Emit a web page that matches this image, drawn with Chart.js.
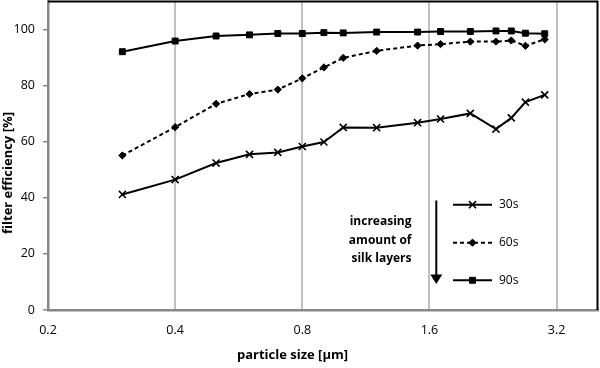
<!DOCTYPE html>
<html>
<head>
<meta charset="utf-8">
<script src="https://cdn.jsdelivr.net/npm/chart.js@4"></script>
<style>
  html, body { margin: 0; padding: 0; background: #fff; }
  #wrap { width: 600px; height: 368px; position: relative; }
</style>
</head>
<body>
<div id="wrap"><canvas id="c" width="600" height="368"></canvas></div>
<script>
const particleSize = [0.3, 0.4, 0.5, 0.6, 0.7, 0.8, 0.9, 1.0, 1.2, 1.5, 1.7, 2.0, 2.3, 2.5, 2.7, 3.0];
const eff30s = [41.2, 46.5, 52.4, 55.5, 56.2, 58.3, 59.9, 65.1, 65.0, 66.8, 68.1, 70.1, 64.5, 68.5, 74.1, 76.7];
const eff60s = [55.1, 65.2, 73.5, 77.0, 78.6, 82.6, 86.5, 89.9, 92.4, 94.3, 94.8, 95.7, 95.7, 96.1, 94.2, 96.5];
const eff90s = [92.1, 95.9, 97.7, 98.1, 98.6, 98.6, 98.9, 98.8, 99.1, 99.1, 99.3, 99.3, 99.5, 99.5, 98.7, 98.5];
const xTicks = [0.2, 0.4, 0.8, 1.6, 3.2];
const yTicks = [0, 20, 40, 60, 80, 100];
const seriesLabels = ['30s', '60s', '90s'];
const noteLines = ['increasing', 'amount of', 'silk layers'];
const xTitle = 'particle size [µm]';
const yTitle = 'filter efficiency [%]';

const FONT = "'Open Sans', 'Noto Sans', sans-serif";
const toXY = (vals) => particleSize.map((x, i) => ({ x: x, y: vals[i] }));

const styles = [
  { pointStyle: 'crossRot', radius: 5, borderDash: [], pw: 1.6 },
  { pointStyle: 'rectRot', radius: 3.6, borderDash: [4, 3], pw: 1 },
  { pointStyle: 'rect', radius: 4.2, borderDash: [], pw: 1 }
];
const seriesData = [eff30s, eff60s, eff90s];

const datasets = seriesData.map((vals, i) => ({
  label: seriesLabels[i],
  data: toXY(vals),
  borderColor: '#000',
  backgroundColor: '#000',
  borderWidth: 2,
  borderDash: styles[i].borderDash,
  pointStyle: styles[i].pointStyle,
  pointRadius: styles[i].radius,
  pointBorderWidth: styles[i].pw,
  pointBackgroundColor: '#000',
  pointBorderColor: '#000',
  tension: 0
}));

const framePlugin = {
  id: 'frame',
  afterDraw(chart) {
    const { ctx, chartArea: a } = chart;
    ctx.save();
    ctx.strokeStyle = '#000';
    ctx.lineWidth = 2;
    ctx.beginPath();
    ctx.moveTo(a.left, a.top);
    ctx.lineTo(a.right, a.top);
    ctx.lineTo(a.right, a.bottom);
    ctx.stroke();

    // axis titles
    ctx.fillStyle = '#000';
    ctx.font = "bold 13px " + FONT;
    ctx.textAlign = 'center';
    ctx.textBaseline = 'middle';
    ctx.fillText(xTitle, 292.5, 355);
    ctx.save();
    ctx.translate(8.5, 173);
    ctx.rotate(-Math.PI / 2);
    ctx.fillText(yTitle, 0, 0);
    ctx.restore();

    // annotation text
    ctx.font = "bold 12px " + FONT;
    ctx.textAlign = 'right';
    const ty = [221.5, 240.3, 259];
    noteLines.forEach((t, i) => ctx.fillText(t, 411.5, ty[i]));

    // arrow
    const ax = 436.3;
    ctx.lineWidth = 2;
    ctx.beginPath();
    ctx.moveTo(ax, 200.5);
    ctx.lineTo(ax, 276);
    ctx.stroke();
    ctx.beginPath();
    ctx.moveTo(ax - 6, 274.5);
    ctx.lineTo(ax + 6, 274.5);
    ctx.lineTo(ax, 284);
    ctx.closePath();
    ctx.fill();

    // legend
    const ly = [204.7, 242.7, 280.3];
    ctx.font = "12px " + FONT;
    ctx.textAlign = 'left';
    seriesLabels.forEach((lab, i) => {
      ctx.save();
      ctx.strokeStyle = '#000';
      ctx.lineWidth = 2;
      ctx.setLineDash(styles[i].borderDash);
      ctx.beginPath();
      ctx.moveTo(453, ly[i]);
      ctx.lineTo(492, ly[i]);
      ctx.stroke();
      ctx.restore();
      ctx.save();
      ctx.fillStyle = '#000';
      ctx.strokeStyle = '#000';
      ctx.lineWidth = styles[i].pw;
      Chart.helpers.drawPoint(ctx, { pointStyle: styles[i].pointStyle, radius: styles[i].radius, rotation: 0, borderWidth: styles[i].pw }, 472.5, ly[i]);
      ctx.restore();
      ctx.fillText(lab, 499, ly[i]);
    });
    ctx.restore();
  }
};

new Chart(document.getElementById('c'), {
  type: 'line',
  data: { datasets },
  plugins: [framePlugin],
  options: {
    responsive: false,
    animation: false,
    devicePixelRatio: 1,
    layout: { autoPadding: false, padding: { top: 1.5, right: 2.5, left: 0, bottom: 0 } },
    plugins: { legend: { display: false }, tooltip: { enabled: false } },
    scales: {
      x: {
        type: 'logarithmic',
        min: 0.2,
        max: 4,
        afterBuildTicks(scale) { scale.ticks = xTicks.map(v => ({ value: v })); },
        afterFit(scale) { scale.height = 58; scale.paddingLeft = 0; scale.paddingRight = 0; },
        ticks: {
          autoSkip: false,
          maxRotation: 0,
          padding: 13,
          color: '#000',
          font: { family: FONT, size: 12.5 },
          callback: (v) => String(v)
        },
        grid: {
          drawTicks: false,
          lineWidth: 2,
          color: (c) => (c.tick && c.tick.value === 0.2) ? 'rgba(0,0,0,0)' : '#c0c0c0'
        },
        border: { display: true, color: '#878787', width: 2.5 },
        title: { display: false }
      },
      y: {
        type: 'linear',
        min: 0,
        max: 110,
        afterBuildTicks(scale) { scale.ticks = yTicks.map(v => ({ value: v })); },
        afterFit(scale) { scale.width = 48; scale.paddingTop = 0; scale.paddingBottom = 0; },
        ticks: {
          padding: 8,
          color: '#000',
          font: { family: FONT, size: 12.5 }
        },
        grid: {
          drawOnChartArea: false,
          drawTicks: true,
          tickLength: 5,
          color: '#878787',
          lineWidth: 1.5
        },
        border: { display: true, color: '#878787', width: 2.5 },
        title: { display: false }
      }
    }
  }
});
</script>
</body>
</html>
